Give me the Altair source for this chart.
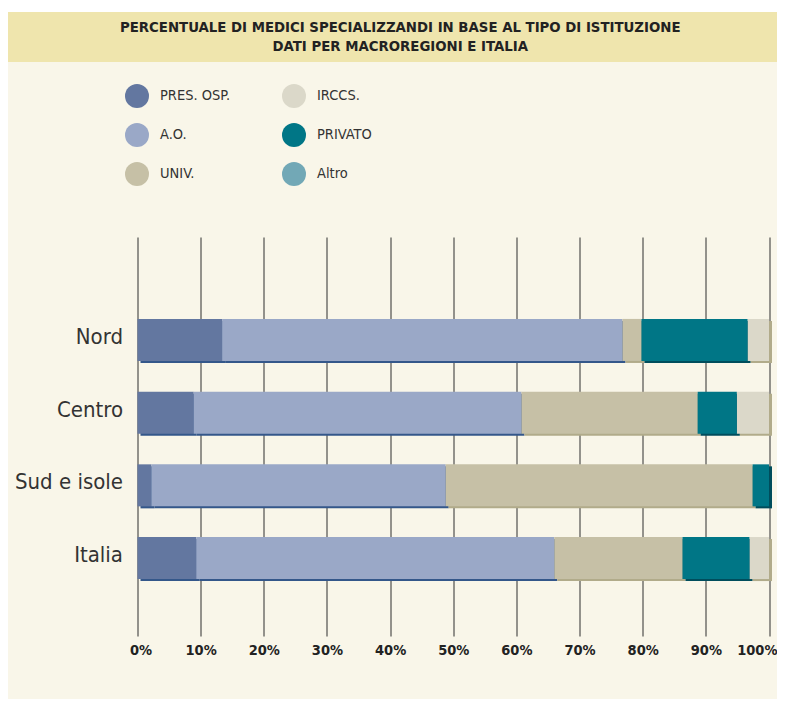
import altair as alt
import pandas as pd

# ---- data ----
regioni = ["Nord", "Centro", "Sud e isole", "Italia"]
tipi = ["PRES. OSP.", "A.O.", "UNIV.", "IRCCS.", "PRIVATO", "Altro"]
pres_osp = [13.4, 8.9, 2.2, 9.3]
ao = [63.4, 51.9, 46.6, 56.7]
univ = [3.0, 27.9, 48.6, 20.3]
irccs = [3.4, 5.1, 0.0, 3.1]
privato = [16.8, 6.2, 2.6, 10.6]
altro = [0.0, 0.0, 0.0, 0.0]
tick_values = [0, 10, 20, 30, 40, 50, 60, 70, 80, 90, 100]

stack_order = ["PRES. OSP.", "A.O.", "UNIV.", "PRIVATO", "IRCCS.", "Altro"]

colori = {
    "PRES. OSP.": "#6377a0",
    "A.O.": "#9aa8c7",
    "UNIV.": "#c6c0a6",
    "IRCCS.": "#dbd8c9",
    "PRIVATO": "#007686",
    "Altro": "#72a8b6",
}
ombre = {
    "PRES. OSP.": "#34578a",
    "A.O.": "#34578a",
    "UNIV.": "#b1ab8a",
    "IRCCS.": "#b1ab8a",
    "PRIVATO": "#004d5c",
    "Altro": "#4d8592",
}

series = {
    "PRES. OSP.": pres_osp,
    "A.O.": ao,
    "UNIV.": univ,
    "IRCCS.": irccs,
    "PRIVATO": privato,
    "Altro": altro,
}
rows = []
for t in tipi:
    for r, v in zip(regioni, series[t]):
        rows.append({"regione": r, "tipo": t, "valore": v, "ordine": stack_order.index(t)})
df = pd.DataFrame(rows)

FONT = "Liberation Sans Narrow, DejaVu Sans Condensed, Arial Narrow, sans-serif"

x_enc = alt.X(
    "valore:Q",
    stack="zero",
    scale=alt.Scale(domain=[0, 100], nice=False, zero=True),
    axis=alt.Axis(
        values=tick_values,
        labelExpr="datum.value + '%'",
        grid=True,
        gridColor="#2e2e2e",
        gridWidth=1,
        ticks=False,
        domain=False,
        labelFlush=True,
        labelFlushOffset=8,
        labelOverlap=False,
        labelFont=FONT,
        labelFontSize=14.5,
        labelFontWeight="bold",
        labelColor="#222222",
        labelPadding=7,
        title=None,
    ),
)
y_enc = alt.Y(
    "regione:N",
    sort=regioni,
    scale=alt.Scale(paddingInner=0.422, paddingOuter=0.955, align=0.59),
    axis=alt.Axis(
        title=None,
        ticks=False,
        domain=False,
        grid=False,
        labelFont=FONT,
        labelFontSize=22,
        labelColor="#333333",
        labelPadding=15,
        labelOffset=-3,
    ),
)

one = pd.DataFrame({"k": [0]})
strip = alt.Chart(one).mark_rect(color="#ffffff").encode(
    x=alt.value(-130), x2=alt.value(640), y=alt.value(-229), y2=alt.value(-225)
)
band = alt.Chart(one).mark_rect(color="#efe5ad").encode(
    x=alt.value(-130), x2=alt.value(640), y=alt.value(-225), y2=alt.value(-175)
)

shadow = alt.Chart(df).mark_bar(xOffset=3, yOffset=2).encode(
    x=x_enc,
    y=y_enc,
    order=alt.Order("ordine:Q"),
    color=alt.Color(
        "tipo:N",
        scale=alt.Scale(domain=tipi, range=[ombre[t] for t in tipi]),
        legend=None,
    ),
)

bars = alt.Chart(df).mark_bar().encode(
    x=x_enc,
    y=y_enc,
    order=alt.Order("ordine:Q"),
    color=alt.Color(
        "tipo:N",
        scale=alt.Scale(domain=tipi, range=[colori[t] for t in tipi]),
        legend=alt.Legend(
            title=None,
            orient="none",
            legendX=-12.5,
            legendY=-153,
            columns=2,
            symbolType="circle",
            symbolSize=576,
            symbolStrokeWidth=0,
            symbolOpacity=1,
            labelFont=FONT,
            labelFontSize=14.5,
            labelColor="#333333",
            labelOffset=11,
            rowPadding=15,
            columnPadding=51,
            padding=0,
        ),
    ),
)

chart = (
    alt.layer(strip, band, shadow, bars)
    .resolve_scale(color="independent")
    .properties(
        width=631.5,
        height=399,
        padding={"left": 129.5, "top": 229, "right": 8, "bottom": 63},
        autosize=alt.AutoSizeParams(type="none"),
        background="#f9f6e9",
        title=alt.TitleParams(
            text=[
                "PERCENTUALE DI MEDICI SPECIALIZZANDI IN BASE AL TIPO DI ISTITUZIONE",
                "DATI PER MACROREGIONI E ITALIA",
            ],
            anchor="middle",
            frame="group",
            dx=-53,
            offset=-46,
            baseline="top",
            font=FONT,
            fontSize=14.8,
            fontWeight="bold",
            color="#222222",
            lineHeight=19,
        ),
    )
    .configure_view(stroke=None)
)

chart.save("out.html", embed_options={"renderer": "svg", "actions": False})
